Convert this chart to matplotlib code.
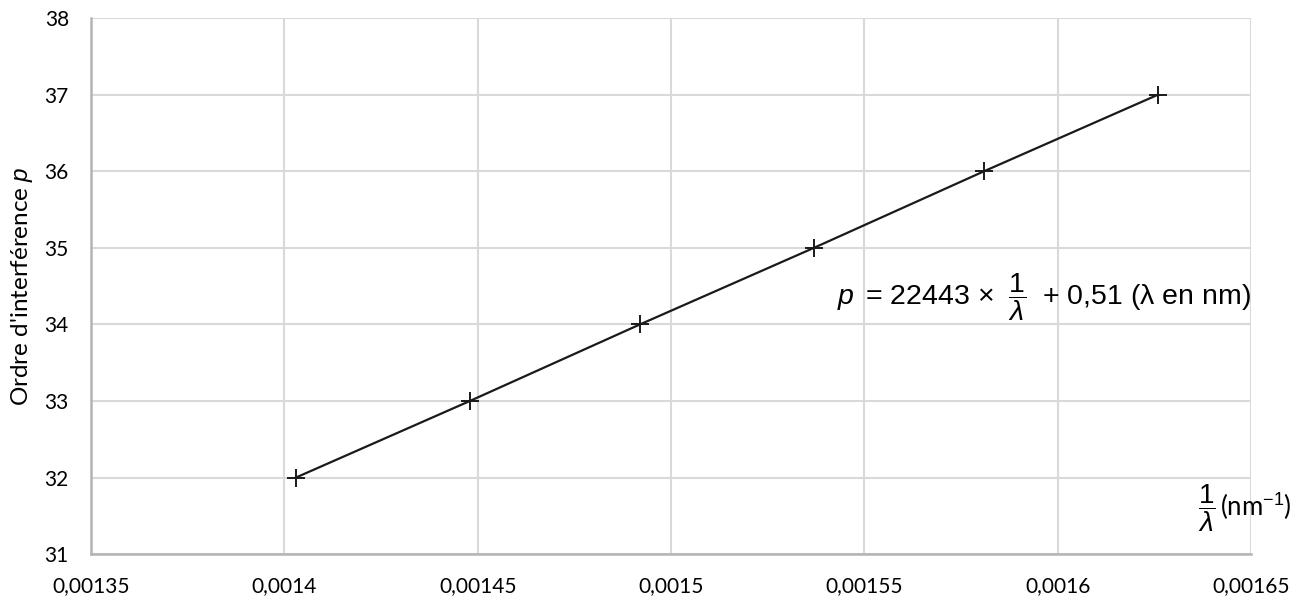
import matplotlib.pyplot as plt

# Values
inv_lambda = [0.001403, 0.001448, 0.001492, 0.001537, 0.001581, 0.001626]
order_p = [32, 33, 34, 35, 36, 37]

x_ticks = [0.00135, 0.0014, 0.00145, 0.0015, 0.00155, 0.0016, 0.00165]
x_tick_labels = ["0,00135", "0,0014", "0,00145", "0,0015", "0,00155", "0,0016", "0,00165"]
y_ticks = [31, 32, 33, 34, 35, 36, 37, 38]

plt.rcParams["font.family"] = ["Lato", "DejaVu Sans"]
plt.rcParams["mathtext.fontset"] = "custom"
plt.rcParams["mathtext.rm"] = "Liberation Sans"
plt.rcParams["mathtext.it"] = "Liberation Sans:italic"

fig = plt.figure(figsize=(13.08, 6.01), dpi=100)
ax = fig.add_axes([0.0696, 0.078, 0.8868, 0.892])

ax.plot(inv_lambda, order_p, color="#1a1a1a", lw=1.6,
        marker="+", markersize=13, markeredgewidth=1.4, zorder=3)

ax.set_xlim(0.00135, 0.00165)
ax.set_ylim(31, 38)
ax.set_xticks(x_ticks)
ax.set_xticklabels(x_tick_labels)
ax.set_yticks(y_ticks)
ax.tick_params(length=0, labelsize=15, colors="#000000")
ax.tick_params(axis="x", pad=16)
ax.tick_params(axis="y", pad=16)

ax.grid(True, color="#d9d9d9", lw=1.5)
ax.set_axisbelow(True)
for side in ["top", "right"]:
    ax.spines[side].set_visible(False)
for side in ["left", "bottom"]:
    ax.spines[side].set_color("#b4b4b4")
    ax.spines[side].set_linewidth(1.8)

ax.set_ylabel(r"Ordre d'interférence $\mathit{p}$", fontsize=17.5, labelpad=7)

ax.text(0.001650, 34.25,
        r"$p\,$ = 22443 × $\;\dfrac{1}{\lambda}\;$ + 0,51 (λ en nm)",
        fontsize=20.5, family="Liberation Sans", ha="right", va="baseline")

# x axis label: fraction and unit drawn side by side
fig.text(0.9295, 0.155, r"$\dfrac{1}{\lambda}$", fontsize=20, ha="right", va="center")
fig.text(0.9330, 0.14, r"(nm$^{-1}$)", fontsize=18.5, ha="left", va="baseline")

fig.savefig("out.png", dpi=100)
